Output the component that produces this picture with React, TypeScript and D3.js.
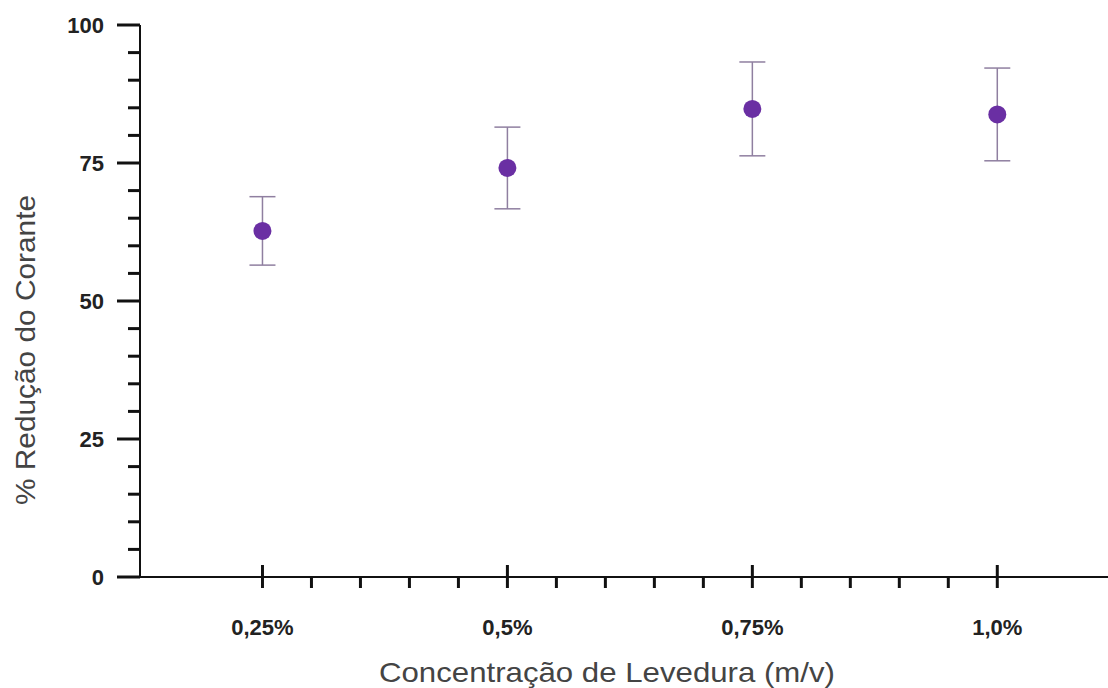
import React from "react";
import * as d3 from "d3";

const concentrations = [0.25, 0.5, 0.75, 1.0];
const xTickLabels = ["0,25%", "0,5%", "0,75%", "1,0%"];
const reduction = [62.7, 74.1, 84.8, 83.8];
const errors = [6.2, 7.4, 8.5, 8.4];
const yTicks = [0, 25, 50, 75, 100];
const yMinorTicks = d3.range(0, 101, 5).filter((v) => v % 25 !== 0);
const xMinorTicks = d3.range(0.25, 1.0001, 0.05).map((v) => +v.toFixed(2)).filter((v) => !concentrations.includes(v));

const W = 1108;
const H = 688;

export default function App() {
  const x = d3.scaleLinear().domain([0.125, 1.113]).range([140, 1108]);
  const y = d3.scaleLinear().domain([0, 100]).range([577, 25]);
  const axisColor = "#111";
  const point = "#6a2fa3";
  const errColor = "#8f7fa0";

  return (
    <svg width={W} height={H} style={{ position: "absolute", left: 0, top: 0, background: "#fff" }}
      fontFamily="'Liberation Sans', Arial, sans-serif">
      {/* Y axis */}
      <line x1={140} x2={140} y1={y(100)} y2={y(0)} stroke={axisColor} strokeWidth={2} />
      {yTicks.map((t) => (
        <g key={"yt" + t}>
          <line x1={117} x2={140} y1={y(t)} y2={y(t)} stroke={axisColor} strokeWidth={3} />
          <text x={104} y={y(t)} dy="0.36em" textAnchor="end" fontSize={22} fontWeight="bold" fill="#222">{t}</text>
        </g>
      ))}
      {yMinorTicks.map((t) => (
        <line key={"ym" + t} x1={128} x2={140} y1={y(t)} y2={y(t)} stroke={axisColor} strokeWidth={3} />
      ))}
      {/* X axis */}
      <line x1={140} x2={1108} y1={577} y2={577} stroke={axisColor} strokeWidth={2} />
      {concentrations.map((c, i) => (
        <g key={"xt" + c}>
          <line x1={x(c)} x2={x(c)} y1={565} y2={588} stroke={axisColor} strokeWidth={3} />
          <text x={x(c)} y={635} textAnchor="middle" fontSize={22} fontWeight="bold" fill="#222">{xTickLabels[i]}</text>
        </g>
      ))}
      {xMinorTicks.map((c) => (
        <line key={"xm" + c} x1={x(c)} x2={x(c)} y1={577} y2={588} stroke={axisColor} strokeWidth={3} />
      ))}
      {/* Error bars and points */}
      {concentrations.map((c, i) => {
        const cx = x(c);
        const top = y(reduction[i] + errors[i]);
        const bot = y(reduction[i] - errors[i]);
        return (
          <g key={"p" + c}>
            <line x1={cx} x2={cx} y1={top} y2={bot} stroke={errColor} strokeWidth={1.5} />
            <line x1={cx - 13} x2={cx + 13} y1={top} y2={top} stroke={errColor} strokeWidth={1.5} />
            <line x1={cx - 13} x2={cx + 13} y1={bot} y2={bot} stroke={errColor} strokeWidth={1.5} />
            <circle cx={cx} cy={y(reduction[i])} r={9} fill={point} />
          </g>
        );
      })}
      {/* Titles */}
      <text x={607} y={682} textAnchor="middle" fontSize={28} fill="#444"
        textLength={456} lengthAdjust="spacingAndGlyphs">Concentração de Levedura (m/v)</text>
      <text transform={`translate(35, 350) rotate(-90)`} textAnchor="middle" fontSize={28} fill="#444"
        textLength={310} lengthAdjust="spacingAndGlyphs">% Redução do Corante</text>
    </svg>
  );
}
